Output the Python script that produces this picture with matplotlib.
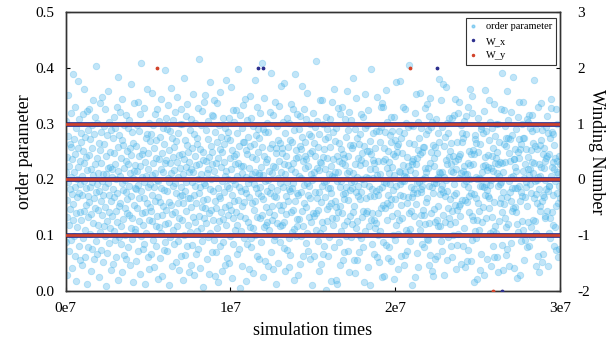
import numpy as np
import matplotlib
matplotlib.use("Agg")
import matplotlib.pyplot as plt
from matplotlib.lines import Line2D

plt.rcParams["font.family"] = ["Liberation Serif", "DejaVu Serif"]
plt.rcParams["axes.unicode_minus"] = False

# order parameter samples (x 1e-3), one every sample_interval steps
order_param_txt = """
213 087 305 164 241 132 029 278 196 352 118 225 071 183 264 147 319 205 092 258 174 041 236 128 389
156 272 098 214 331 187 063 245 139 292 017 201 168 114 257 376 223 081 176 309 142 233 055 191 268
127 284 206 046 173 318 251 094 198 143 362 229 109 276 061 185 240 154 323 013 217 133 289 170 078
244 159 326 102 187 272 035 219 138 297 075 256 195 121 343 208 166 058 281 227 149 312 089 178 404
191 067 238 301 145 212 119 265 024 180 337 253 105 161 286 073 230 197 136 349 209 052 173 296 117
263 186 099 327 151 008 242 209 125 279 068 194 358 220 141 303 086 172 250 113 223 037 289 162 205
135 218 274 049 182 313 107 248 168 091 292 227 144 061 201 331 175 123 258 384 019 216 153 280 096
207 322 158 084 239 116 271 193 033 345 181 129 262 064 221 298 148 199 101 316 234 177 057 252 140
165 292 079 228 137 306 189 047 257 211 112 371 170 244 093 285 131 203 016 266 154 338 215 106 184
226 111 261 183 054 297 148 216 339 072 190 243 126 287 167 030 225 317 098 179 409 245 139 204 076
118 253 196 329 085 167 231 142 012 274 206 104 363 157 282 060 219 186 248 127 302 040 192 269 150
281 143 066 208 355 172 125 297 230 092 187 256 043 318 162 211 117 270 080 238 199 134 327 169 021
198 305 236 114 059 277 160 218 344 103 184 247 136 026 293 214 152 073 264 181 396 120 229 088 311
146 235 179 290 071 202 334 122 253 011 196 160 287 230 097 154 365 212 045 275 138 241 189 109 306
259 084 217 141 322 193 052 269 176 231 116 348 090 205 283 158 038 244 130 299 220 171 063 327 186
173 300 128 246 020 209 157 383 237 100 271 180 065 223 314 144 195 262 081 336 119 250 166 034 214
232 106 289 167 219 047 309 151 195 257 082 133 354 214 173 029 282 243 124 189 301 067 226 157 274
108 264 200 076 329 135 228 175 416 041 255 186 112 298 210 150 089 323 235 163 007 249 194 340 131
190 351 148 233 121 288 057 211 165 272 096 219 305 139 031 241 182 375 103 260 201 145 316 070 227
249 127 314 179 092 216 342 161 027 286 229 149 070 203 268 113 338 184 239 015 298 171 126 255 357
167 080 222 277 141 036 250 197 129 311 087 232 177 264 046 206 151 293 378 118 215 059 274 188 137
285 201 155 050 310 185 238 099 270 145 366 218 023 173 253 130 325 199 084 243 161 303 110 228 192
141 246 325 119 207 067 283 164 230 398 075 187 260 134 315 005 224 179 107 292 153 212 044 268 333
224 160 095 267 183 345 131 253 018 204 176 307 085 246 193 124 277 039 221 169 350 115 260 200 078
095 311 209 157 240 112 296 032 192 263 146 214 379 162 100 280 237 185 062 330 132 249 175 291 208
212 058 274 186 130 320 222 170 088 259 410 136 291 025 208 165 242 114 347 197 054 285 150 231 119
301 179 123 236 045 199 286 142 215 109 322 175 256 069 186 392 128 263 211 152 039 316 225 091 170
136 223 340 098 257 168 013 247 181 296 121 203 050 271 234 155 332 087 194 266 117 213 367 145 248
256 119 187 303 155 077 228 374 123 209 283 035 243 170 138 310 196 073 259 226 162 094 301 183 043
180 270 064 218 141 336 185 106 267 194 146 230 326 111 019 289 213 161 389 253 099 239 129 176 317
117 241 172 029 291 206 129 260 048 314 178 098 255 203 368 144 276 116 234 063 190 327 157 220 268
243 086 308 150 236 103 355 193 172 224 071 281 133 189 247 057 300 167 209 124 278 011 252 199 140
202 319 134 266 062 214 178 295 243 139 412 110 221 305 167 089 258 145 036 282 217 178 343 103 231
159 049 230 188 343 124 066 240 113 300 196 255 081 168 219 272 001 197 313 147 238 126 290 063 185
276 210 152 096 259 184 309 157 225 017 176 339 206 131 285 236 118 362 079 204 161 269 213 150 020
131 293 198 243 012 328 142 214 088 266 233 153 046 317 187 107 254 198 140 229 330 056 174 245 118
238 165 069 309 176 226 098 277 186 359 125 211 289 072 242 163 321 033 216 181 262 135 096 307 196
184 257 120 211 141 383 262 055 197 152 290 032 228 177 112 347 204 275 125 056 189 238 171 264 101
069 226 281 165 235 094 177 318 133 248 201 078 312 143 260 192 015 230 293 108 354 166 205 139 252
297 144 203 042 325 251 116 188 269 010 219 171 245 127 398 085 182 140 235 284 203 127 066 229 171
219 112 256 180 121 287 208 060 348 172 139 233 100 287 182 052 268 210 107 331 148 295 187 024 337
154 330 087 233 195 027 257 149 236 286 082 194 361 157 220 127 303 059 252 173 231 078 211 155 280
192 267 165 312 053 222 135 287 101 181 246 313 022 208 271 165 091 242 189 375 119 261 140 249 102
263 040 216 128 287 192 376 173 214 062 274 155 197 248 131 330 226 170 046 207 283 197 327 064 213
110 205 301 158 072 240 169 104 294 225 140 405 265 111 090 217 186 298 144 227 011 169 233 175 296
236 182 135 264 211 319 024 227 156 353 193 068 239 175 304 043 253 121 275 195 110 245 356 136 182
178 292 249 085 188 146 259 200 079 137 258 221 120 329 205 160 281 214 093 335 166 288 092 220 047
314 121 189 346 230 064 294 139 250 186 035 303 176 262 027 238 147 194 224 058 258 123 201 309 194
127 247 063 205 152 283 116 381 214 268 117 174 211 089 343 182 214 071 295 190 137 371 178 029 261
205 170 277 124 366 199 235 055 180 302 228 097 284 149 241 130 310 252 165 120 228 080 266 216 143
060 310 213 242 100 173 315 191 123 234 154 344 040 219 176 268 083 146 320 236 102 202 152 340 243
245 135 156 297 211 048 268 163 284 081 216 274 192 112 305 224 163 042 209 281 197 314 053 159 210
186 229 331 073 171 251 142 226 362 200 053 176 245 320 135 091 350 228 128 253 174 016 245 279 107
272 095 204 167 265 128 201 021 157 311 249 144 109 202 264 189 037 291 200 067 296 213 188 124 225
151 284 186 323 028 226 361 173 240 130 192 287 217 058 181 244 222 170 270 149 343 167 104 303 190
221 199 045 242 132 292 081 257 107 215 335 061 159 278 229 117 300 104 238 211 060 250 227 189 034
299 126 268 207 191 158 232 196 326 166 083 230 391 141 038 214 177 264 325 156 231 131 296 065 274
114 261 169 358 076 307 120 274 045 247 197 273 178 234 322 162 086 205 143 280 184 384 206 148 237
237 041 223 151 255 184 216 141 290 185 120 023 249 313 105 272 239 339 188 028 255 162 089 263 178
170 300 126 274 216 110 339 055 203 275 228 168 091 196 255 186 152 078 309 218 123 240 303 208 315
081 219 293 191 114 253 176 287 232 097 315 211 266 128 166 378 230 197 125 260 290 104 174 044 199
255 158 204 062 330 227 034 182 152 262 206 143 337 270 222 051 289 161 246 173 067 220 257 168 131
199 233 134 239 183 295 143 243 314 179 045 284 189 104 188 246 130 275 095 329 206 344 142 286 223
232 118 281 172 219 080 262 198 115 238 153 327 073 233 299 214 176 061 210 158 243 189 075 227 167
"""
order_param = np.array(order_param_txt.split(), dtype=float) / 1000.0
sample_interval = 3e7 / len(order_param)
sim_times = np.arange(len(order_param)) * sample_interval

# winding numbers: levels visited all the time, plus rare excursions
w_levels = [-1, 0, 1]
wx_rare_t = [1.166e7, 1.2e7, 2.25e7, 2.645e7]
wx_rare_w = [2, 2, 2, -2]
wy_rare_t = [5.53e6, 2.09e7, 2.59e7]
wy_rare_w = [2, 2, -2]

x_ticks = [0, 1e7, 2e7, 3e7]
x_labels = ["0e7", "1e7", "2e7", "3e7"]
y_ticks = [0.0, 0.1, 0.2, 0.3, 0.4, 0.5]
w_ticks = [-2, -1, 0, 1, 2, 3]

c_op = "#45b3ea"
c_wx = "#2d2f8e"
c_wy = "#d2432a"

fig = plt.figure(figsize=(6.13, 3.45), dpi=100)
ax = fig.add_axes([0.107, 0.157, 0.807, 0.807])
ax.scatter(sim_times, order_param, s=22, color=c_op, alpha=0.33, linewidths=0.6)
ax.set_xlim(0, 3e7)
ax.set_ylim(0, 0.5)
ax.set_xticks(x_ticks)
ax.set_xticklabels(x_labels)
ax.set_yticks(y_ticks)
ax.set_yticklabels(["%.1f" % v for v in y_ticks])
ax.tick_params(direction="in", length=3, labelsize=11, pad=8)
ax.set_xlabel("simulation times", fontsize=13, labelpad=5)
ax.set_ylabel("order parameter", fontsize=13, labelpad=2)

ax2 = ax.twinx()
for w in w_levels:
    ax2.axhline(w, color=c_wx, lw=3.4, zorder=2)
    ax2.axhline(w, color=c_wy, lw=1.9, zorder=3)
ax2.scatter(wx_rare_t, wx_rare_w, s=3, color=c_wx, zorder=4)
ax2.scatter(wy_rare_t, wy_rare_w, s=3, color=c_wy, zorder=4)
ax2.set_ylim(-2, 3)
ax2.set_yticks(w_ticks)
ax2.tick_params(direction="in", length=3, labelsize=11, pad=12)
ax2.set_ylabel("Winding Number", fontsize=13, rotation=270, labelpad=11)

for a in (ax, ax2):
    for sp in a.spines.values():
        sp.set_color("#333333")
        sp.set_linewidth(1.0)

handles = [
    Line2D([], [], ls="", marker=".", ms=4, color=c_op, alpha=0.5),
    Line2D([], [], ls="", marker=".", ms=3, color=c_wx),
    Line2D([], [], ls="", marker=".", ms=3, color=c_wy),
]
leg = ax2.legend(handles, ["order parameter", "W_x", "W_y"], loc="upper right",
                 bbox_to_anchor=(0.992, 0.98), borderaxespad=0, fontsize=7.5,
                 fancybox=False, framealpha=1, edgecolor="#333333",
                 handlelength=0.6, handletextpad=0.9, labelspacing=0.5,
                 borderpad=0.4)
leg.get_frame().set_linewidth(0.8)

fig.savefig("out.png", dpi=100)
